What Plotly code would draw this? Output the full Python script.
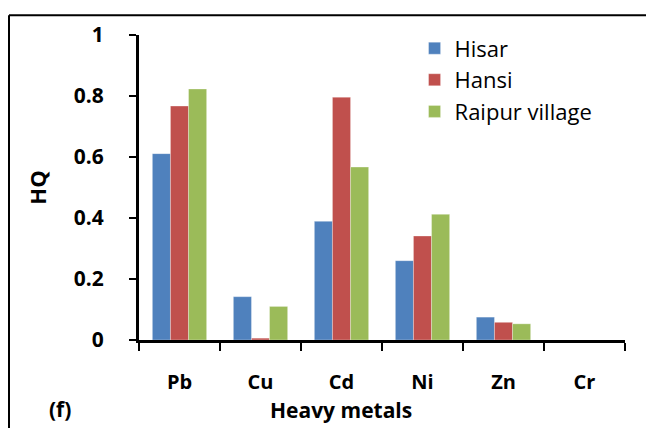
import plotly.graph_objects as go

metals = ["Pb", "Cu", "Cd", "Ni", "Zn", "Cr"]
hisar = [0.611, 0.142, 0.389, 0.260, 0.075, 0.0]
hansi = [0.767, 0.006, 0.796, 0.341, 0.058, 0.0]
raipur = [0.823, 0.110, 0.567, 0.412, 0.053, 0.0]
series_names = ["Hisar", "Hansi", "Raipur village"]
colors = ["#4F81BD", "#C0504D", "#9BBB59"]
y_ticks = [0, 0.2, 0.4, 0.6, 0.8, 1]
y_tick_labels = ["0", "0.2", "0.4", "0.6", "0.8", "1"]

FONT = "Open Sans"
OFF = 8  # page body margin
W, H = 654 - OFF, 428 - OFF
# target plot area in page pixels: x 139..625, y 31..340
L = 139 - OFF
T = 31 - OFF
R = W - (625 - OFF)
B = H - (340 - OFF)
pw, ph = W - L - R, H - T - B

fig = go.Figure()
for name, vals, col in zip(series_names, [hisar, hansi, raipur], colors):
    fig.add_trace(go.Bar(
        x=metals, y=vals, name=name, legendgroup=name,
        marker=dict(color=col, line=dict(color="rgba(255,255,255,0.5)", width=0.6)),
    ))

def px_x(p):
    return (p - OFF - L) / pw

def px_y(p):
    return (H - B - (p - OFF)) / ph

fig.update_layout(
    width=W, height=H,
    margin=dict(l=L, r=R, t=T, b=B),
    paper_bgcolor="white", plot_bgcolor="white",
    barmode="group", bargap=0.33, bargroupgap=0,
    showlegend=True,
    legend=dict(
        x=0.567, y=1.025, xanchor="left", yanchor="top",
        font=dict(family=FONT, size=22, color="black"),
        bgcolor="rgba(0,0,0,0)", tracegroupgap=0, traceorder="normal",
    ),
    xaxis=dict(
        showline=True, linecolor="black", linewidth=3,
        ticks="outside", ticklen=8, tickwidth=2, tickcolor="black",
        tickson="boundaries", showgrid=False,
        tickfont=dict(family=FONT, size=20, color="black", weight="bold"),
        ticklabelstandoff=22,
    ),
    yaxis=dict(
        range=[0, 1], tickvals=y_ticks, ticktext=y_tick_labels,
        showline=True, linecolor="black", linewidth=3,
        ticks="outside", ticklen=7, tickwidth=2, tickcolor="black",
        showgrid=False, zeroline=False,
        tickfont=dict(family=FONT, size=21, color="black", weight="bold"),
        ticklabelstandoff=21,
        title=dict(text="HQ", font=dict(family=FONT, size=22, color="black", weight="bold"), standoff=22),
    ),
    annotations=[
        dict(text="Heavy metals", xref="paper", yref="paper", x=px_x(341), y=px_y(411),
             xanchor="center", yanchor="middle", showarrow=False,
             font=dict(family=FONT, size=21, color="black", weight="bold")),
        dict(text="(f)", xref="paper", yref="paper", x=px_x(60), y=px_y(410),
             xanchor="center", yanchor="middle", showarrow=False,
             font=dict(family=FONT, size=21, color="black", weight="bold")),
    ],
    shapes=[
        dict(type="line", xref="paper", yref="paper", x0=px_x(9), x1=px_x(9), y0=px_y(11), y1=px_y(440),
             line=dict(color="black", width=2)),
        dict(type="line", xref="paper", yref="paper", x0=px_x(9), x1=px_x(670), y0=px_y(11), y1=px_y(11),
             line=dict(color="black", width=2)),
    ],
)

fig.write_html("out.html")
